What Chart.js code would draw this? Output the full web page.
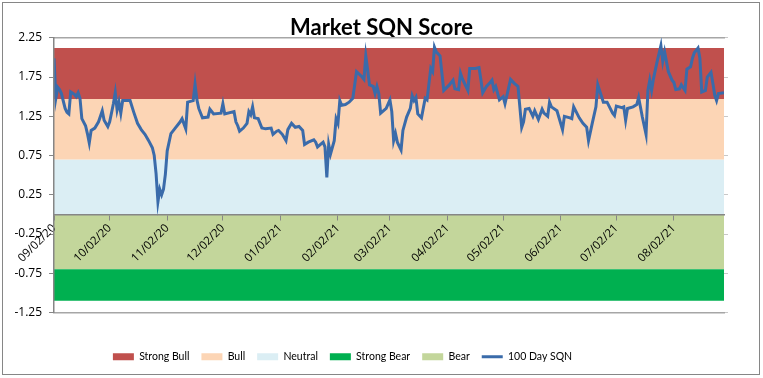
<!DOCTYPE html>
<html>
<head>
<meta charset="utf-8">
<script src="https://cdn.jsdelivr.net/npm/chart.js@4/dist/chart.umd.min.js"></script>
<style>
  html, body { margin: 0; padding: 0; background: #fff; }
  #wrap { width: 763px; height: 378px; }
</style>
</head>
<body>
<div id="wrap"><canvas id="chart" width="763" height="378"></canvas></div>
<script>
'use strict';

// x values are calendar days counted from 09/02/20
const monthTickDays   = [0, 30, 61, 91, 122, 153, 181, 212, 242, 273, 303, 334];
const monthTickLabels = ['09/02/20', '10/02/20', '11/02/20', '12/02/20', '01/02/21', '02/02/21',
                         '03/02/21', '04/02/21', '05/02/21', '06/02/21', '07/02/21', '08/02/21'];
const lastDay = 361;

const bandNames   = ['Strong Bull', 'Bull', 'Neutral', 'Strong Bear', 'Bear'];
const bandTops    = [2.12, 1.47, 0.70, -0.70, 0];
const bandBottoms = [1.47, 0.70, 0, -1.10, -0.70];

const sqnDays = [
  0, 1, 2, 3, 4, 6, 7, 8, 9, 11, 12, 13, 14, 15, 17, 18, 19, 20, 22, 24,
  26, 27, 29, 30, 32, 33, 34, 35, 36, 37, 41, 43, 45, 47, 49, 51, 53, 54, 55, 56,
  57, 58, 59, 60, 61, 63, 65, 68, 69, 71, 72, 75, 76, 77, 78, 80, 83, 84, 86, 90,
  91, 92, 97, 98, 99, 100, 102, 104, 105, 106, 107, 108, 110, 112, 114, 117, 118, 120, 121, 123,
  125, 126, 128, 130, 132, 134, 135, 137, 140, 141, 142, 145, 146, 147, 148, 149, 151, 152, 153, 154,
  155, 157, 159, 161, 163, 166, 167, 168, 169, 170, 172, 173, 174, 175, 176, 179, 181, 182, 183, 184,
  185, 187, 188, 190, 192, 193, 194, 195, 196, 198, 200, 201, 203, 204, 205, 206, 208, 209, 210, 213,
  215, 216, 218, 219, 220, 223, 224, 227, 229, 230, 231, 233, 235, 236, 237, 238, 240, 242, 243, 246,
  248, 250, 252, 253, 254, 256, 258, 259, 261, 263, 264, 266, 267, 268, 271, 274, 275, 278, 279, 280,
  283, 285, 287, 288, 290, 292, 293, 296, 298, 301, 302, 303, 306, 307, 308, 309, 312, 314, 315, 317,
  319, 320, 321, 322, 323, 325, 327, 328, 329, 331, 333, 334, 335, 337, 338, 340, 341, 343, 344, 345,
  347, 348, 349, 351, 352, 354, 355, 356, 357, 358, 361
];
const sqnValues = [
  1.99, 1.48, 1.62, 1.59, 1.54, 1.35, 1.30, 1.28, 1.56, 1.53, 1.50, 1.55, 1.48, 1.22, 1.13, 1.03, 0.91, 1.07, 1.10, 1.18,
  1.32, 1.20, 1.12, 1.18, 1.41, 1.55, 1.33, 1.43, 1.29, 1.45, 1.45, 1.30, 1.16, 1.08, 1.02, 0.94, 0.85, 0.75, 0.52, 0.16,
  0.32, 0.25, 0.32, 0.51, 0.81, 1.03, 1.09, 1.18, 1.22, 1.09, 1.43, 1.45, 1.66, 1.46, 1.35, 1.23, 1.24, 1.34, 1.28, 1.29,
  1.41, 1.28, 1.31, 1.18, 1.13, 1.06, 1.10, 1.16, 1.31, 1.27, 1.37, 1.23, 1.22, 1.10, 1.09, 1.10, 1.02, 1.06, 1.07, 1.02,
  0.94, 1.08, 1.16, 1.11, 1.12, 1.07, 0.89, 0.92, 0.95, 0.92, 0.86, 0.92, 0.86, 0.47, 0.89, 0.77, 0.94, 1.22, 1.16, 1.45,
  1.39, 1.40, 1.43, 1.48, 1.82, 1.75, 1.72, 2.02, 1.84, 1.65, 1.63, 1.54, 1.63, 1.54, 1.29, 1.35, 1.46, 1.31, 0.94, 1.03,
  0.92, 0.82, 1.07, 1.24, 1.35, 1.51, 1.45, 1.49, 1.28, 1.23, 1.48, 1.46, 1.86, 1.82, 2.13, 2.07, 2.02, 1.80, 1.58, 1.65,
  1.71, 1.60, 1.59, 1.80, 1.73, 1.58, 1.86, 1.86, 1.87, 1.72, 1.55, 1.63, 1.68, 1.71, 1.59, 1.63, 1.46, 1.50, 1.41, 1.72,
  1.67, 1.63, 1.11, 1.18, 1.34, 1.35, 1.25, 1.32, 1.21, 1.34, 1.29, 1.25, 1.43, 1.37, 1.32, 1.08, 1.25, 1.23, 1.22, 1.37,
  1.23, 1.16, 1.11, 0.94, 1.16, 1.37, 1.65, 1.43, 1.43, 1.29, 1.26, 1.38, 1.36, 1.37, 1.20, 1.35, 1.37, 1.40, 1.49, 1.24,
  1.02, 1.58, 1.71, 1.58, 1.73, 1.95, 2.15, 1.95, 2.07, 1.82, 1.71, 1.68, 1.59, 1.60, 1.65, 1.58, 1.85, 1.88, 1.99, 2.06,
  2.12, 1.99, 1.56, 1.58, 1.75, 1.81, 1.67, 1.52, 1.45, 1.54, 1.55
];

const bandColors = ['#C0504D', '#FCD5B5', '#DBEEF4', '#00B050', '#C3D69B'];
const lineColor = '#3A6BAA';
const axisColor = '#868686';

const frame = {
  id: 'frame',
  beforeDraw(chart) {
    const c = chart.ctx;
    c.save();
    c.fillStyle = '#fff';
    c.fillRect(0, 0, chart.width, chart.height);
    c.strokeStyle = axisColor;
    c.lineWidth = 1;
    c.strokeRect(2.5, 2.5, chart.width - 6, chart.height - 6);
    c.restore();
  },
  // legend sits a little left of the canvas centre in the original
  afterLayout(chart) {
    chart.legend.left -= 39;
    chart.legend.right -= 39;
  }
};

const bandSets = bandNames.map((name, i) => ({
  label: name,
  data: [{ x: 0, y: bandTops[i] }, { x: lastDay, y: bandTops[i] }],
  backgroundColor: bandColors[i],
  borderColor: bandColors[i],
  borderWidth: 0,
  pointRadius: 0,
  pointStyle: 'rect',
  fill: { value: bandBottoms[i] },
  order: 1
}));

const lineSet = {
  label: '100 Day SQN',
  data: sqnDays.map((d, i) => ({ x: d, y: sqnValues[i] })),
  borderColor: lineColor,
  backgroundColor: lineColor,
  borderWidth: 3,
  pointRadius: 0,
  pointStyle: 'line',
  tension: 0,
  fill: false,
  order: 0
};

new Chart(document.getElementById('chart'), {
  type: 'line',
  data: { datasets: [...bandSets, lineSet] },
  options: {
    responsive: false,
    animation: false,
    events: [],
    layout: { padding: { left: 0, right: 0, top: 0, bottom: 6 } },
    plugins: {
      title: {
        display: true,
        text: 'Market SQN Score',
        color: '#000',
        font: { family: 'Lato', size: 22, weight: 'bold', lineHeight: 0.9 },
        padding: { top: 18, bottom: 0 }
      },
      legend: {
        position: 'bottom',
        labels: {
          usePointStyle: true,
          pointStyleWidth: 21,
          boxHeight: 7,
          padding: 12,
          color: '#000',
          font: { family: 'Lato', size: 10.5 },
          sort: (a, b) => a.datasetIndex - b.datasetIndex
        }
      },
      tooltip: { enabled: false }
    },
    scales: {
      x: {
        type: 'linear',
        min: 0,
        max: lastDay,
        position: { y: 0 },
        afterBuildTicks: s => { s.ticks = monthTickDays.map(v => ({ value: v })); },
        ticks: {
          autoSkip: false,
          minRotation: 45,
          maxRotation: 45,
          padding: 2,
          z: 1,
          color: '#000',
          font: { family: 'Open Sans', size: 11.5 },
          callback: (v, i) => monthTickLabels[i]
        },
        grid: { drawOnChartArea: false, tickLength: 5, color: axisColor, z: 1 },
        border: { color: axisColor, width: 1.5, z: 1 }
      },
      xTop: {
        type: 'linear',
        position: 'top',
        min: 0,
        max: lastDay,
        ticks: { display: false },
        grid: { display: false, drawTicks: false },
        border: { color: '#A6A6A6', width: 1.5 },
        afterFit: s => { s.height = 0; }
      },
      xBottom: {
        type: 'linear',
        position: 'bottom',
        min: 0,
        max: lastDay,
        ticks: { display: false },
        grid: { display: false, drawTicks: false },
        border: { color: '#A6A6A6', width: 1.5 },
        afterFit: s => { s.height = 27; }
      },
      y: {
        min: -1.25,
        max: 2.25,
        ticks: {
          stepSize: 0.5,
          padding: 7,
          color: '#000',
          font: { family: 'Open Sans', size: 12 },
          callback: v => v.toFixed(2)
        },
        grid: { drawOnChartArea: false, tickLength: 5, color: axisColor },
        border: { color: axisColor, width: 1.5, z: 1 },
        afterFit: s => { s.width = 54; }
      },
      yRight: {
        position: 'right',
        min: -1.25,
        max: 2.25,
        ticks: { display: false, stepSize: 0.5 },
        grid: { drawOnChartArea: false, tickLength: 4, color: '#C8C8C8' },
        border: { display: false },
        afterFit: s => { s.width = 39; }
      }
    }
  },
  plugins: [frame]
});
</script>
</body>
</html>
